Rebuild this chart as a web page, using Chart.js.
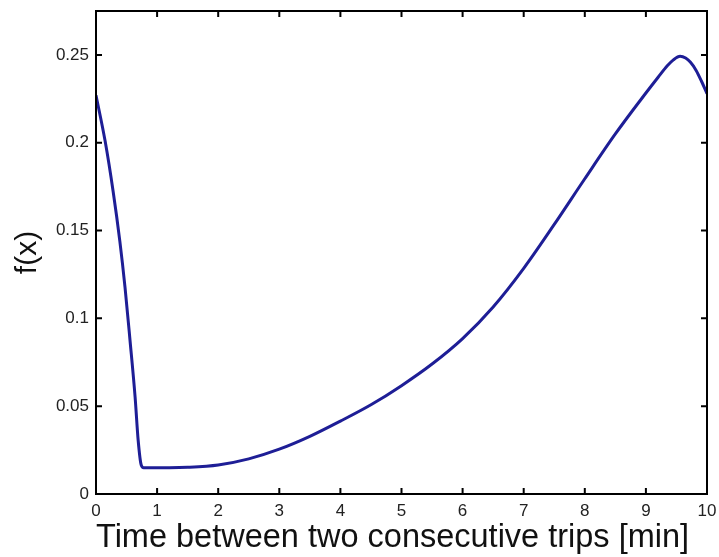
<!DOCTYPE html>
<html>
<head>
<meta charset="utf-8">
<script src="https://cdn.jsdelivr.net/npm/chart.js@4"></script>
<style>
  html, body { margin: 0; padding: 0; background: #fff; }
  #wrap { width: 719px; height: 557px; }
</style>
</head>
<body>
<div id="wrap"><canvas id="c" width="719" height="557"></canvas></div>
<script>
const xValues = [0, 0.15, 0.28, 0.39, 0.475, 0.557, 0.64, 0.69, 0.74, 0.78, 0.9, 1.2, 1.5, 2.0, 2.5, 3.0, 3.5, 4.0, 4.5, 5.0, 5.5, 6.0, 6.5, 7.0, 7.5, 8.0, 8.5, 9.0, 9.2, 9.35, 9.45, 9.56, 9.65, 9.73, 9.82, 9.91, 10];
const fValues = [0.227, 0.2008, 0.1724, 0.144, 0.1176, 0.0874, 0.0552, 0.0306, 0.0165, 0.0150, 0.0150, 0.0150, 0.0152, 0.0165, 0.0200, 0.0255, 0.0328, 0.0415, 0.0508, 0.0617, 0.0740, 0.0885, 0.1065, 0.1285, 0.1535, 0.1795, 0.2050, 0.2283, 0.2373, 0.2438, 0.2472, 0.2492, 0.2482, 0.2458, 0.2413, 0.2350, 0.228];
const xTicks = [0, 1, 2, 3, 4, 5, 6, 7, 8, 9, 10];
const yTicks = [0, 0.05, 0.1, 0.15, 0.2, 0.25];
const xTitle = 'Time between two consecutive trips [min]';
const yTitle = 'f(x)';

const points = xValues.map((x, i) => ({ x: x, y: fValues[i] }));

const frameTicks = {
  id: 'frameTicks',
  afterDraw(chart) {
    const { ctx, chartArea: a, scales } = chart;
    const L = 6;
    ctx.save();
    ctx.strokeStyle = '#000';
    ctx.lineWidth = 2;
    ctx.beginPath();
    xTicks.forEach(v => {
      const px = scales.x.getPixelForValue(v);
      ctx.moveTo(px, a.bottom); ctx.lineTo(px, a.bottom - L);
      ctx.moveTo(px, a.top); ctx.lineTo(px, a.top + L);
    });
    yTicks.forEach(v => {
      const py = scales.y.getPixelForValue(v);
      ctx.moveTo(a.left, py); ctx.lineTo(a.left + L, py);
      ctx.moveTo(a.right, py); ctx.lineTo(a.right - L, py);
    });
    ctx.stroke();
    ctx.strokeRect(a.left, a.top, a.right - a.left, a.bottom - a.top);
    ctx.restore();
  }
};

new Chart(document.getElementById('c'), {
  type: 'scatter',
  data: {
    datasets: [{
      data: points,
      showLine: true,
      borderColor: '#1e1e96',
      borderWidth: 3,
      pointRadius: 0,
      fill: false,
      cubicInterpolationMode: 'monotone'
    }]
  },
  options: {
    responsive: false,
    animation: false,
    layout: { padding: { left: 0, right: 12, top: 11, bottom: 0 } },
    plugins: { legend: { display: false }, tooltip: { enabled: false } },
    scales: {
      x: {
        type: 'linear', min: 0, max: 10,
        afterBuildTicks: s => { s.ticks = xTicks.map(v => ({ value: v })); },
        afterFit: s => { s.height = 63; s.paddingLeft = 0; s.paddingRight = 0; },
        grid: { display: false, drawTicks: false },
        border: { display: false },
        ticks: {
          padding: 7, color: '#222',
          font: { family: 'Liberation Sans', size: 17 },
          maxRotation: 0,
          callback: v => String(v)
        },
        title: {
          display: true, text: xTitle, color: '#111', align: 'start',
          font: { family: 'Liberation Sans', size: 32.5 },
          padding: { top: 0, bottom: -1 }
        }
      },
      y: {
        type: 'linear', min: 0, max: 0.275,
        afterBuildTicks: s => { s.ticks = yTicks.map(v => ({ value: v })); },
        afterFit: s => { s.width = 96; s.paddingTop = 0; s.paddingBottom = 0; },
        grid: { display: false, drawTicks: false },
        border: { display: false },
        ticks: {
          padding: 7, color: '#222',
          font: { family: 'Liberation Sans', size: 17 },
          callback: v => String(+v.toFixed(3))
        },
        title: {
          display: true, text: yTitle, color: '#111',
          font: { family: 'Liberation Sans', size: 30 },
          padding: { top: 10, bottom: 0 }
        }
      }
    }
  },
  plugins: [frameTicks]
});
</script>
</body>
</html>
